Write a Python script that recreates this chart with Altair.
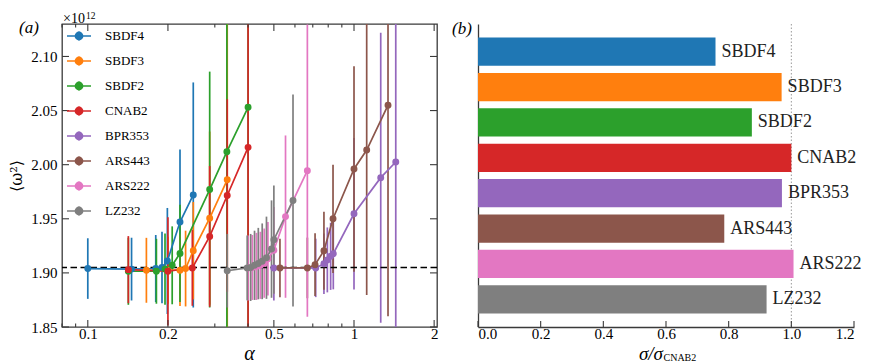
import altair as alt
import pandas as pd

methods = ["SBDF4", "SBDF3", "SBDF2", "CNAB2", "BPR353", "ARS443", "ARS222", "LZ232"]
colors = ["#1f77b4", "#ff7f0e", "#2ca02c", "#d62728", "#9467bd", "#8c564b", "#e377c2", "#7f7f7f"]

# ---- panel (a): alpha, <omega^2> (units 1e12), half error bar ----
sbdf4_alpha = [0.100, 0.146, 0.180, 0.190, 0.199, 0.222, 0.249]
sbdf4_value = [1.904, 1.9035, 1.904, 1.905, 1.911, 1.947, 1.972]
sbdf4_err = [0.028, 0.029, 0.031, 0.033, 0.049, 0.067, 0.104]

sbdf3_alpha = [0.166, 0.200, 0.222, 0.233, 0.249, 0.287, 0.334]
sbdf3_value = [1.9024, 1.9025, 1.9025, 1.904, 1.9205, 1.9506, 1.986]
sbdf3_err = [0.030, 0.031, 0.033, 0.035, 0.045, 0.080, 0.150]

sbdf2_alpha = [0.142, 0.181, 0.195, 0.2075, 0.222, 0.287, 0.333, 0.400]
sbdf2_value = [1.9015, 1.9015, 1.9035, 1.907, 1.918, 1.977, 2.012, 2.053]
sbdf2_err = [0.031, 0.030, 0.033, 0.036, 0.045, 0.109, 0.200, 0.250]

cnab2_alpha = [0.142, 0.200, 0.247, 0.287, 0.334, 0.400]
cnab2_value = [1.903, 1.9015, 1.9046, 1.9337, 1.9715, 2.016]
cnab2_err = [0.031, 0.050, 0.035, 0.065, 0.089, 0.300]

bpr353_alpha = [0.500, 0.718, 0.771, 0.794, 0.817, 0.836, 1.000, 1.260, 1.435]
bpr353_value = [1.9046, 1.9046, 1.9085, 1.912, 1.9153, 1.9178, 1.9546, 1.988, 2.0025]
bpr353_err = [0.030, 0.027, 0.028, 0.030, 0.031, 0.033, 0.070, 0.134, 0.200]

ars443_alpha = [0.527, 0.668, 0.714, 0.771, 0.834, 1.000, 1.116, 1.342]
ars443_value = [1.9046, 1.9046, 1.9076, 1.9205, 1.950, 1.996, 2.0135, 2.055]
ars443_err = [0.027, 0.028, 0.029, 0.036, 0.050, 0.095, 0.134, 0.195]

ars222_alpha = [0.400, 0.415, 0.430, 0.445, 0.460, 0.475, 0.500, 0.553, 0.668]
ars222_value = [1.9045, 1.905, 1.906, 1.907, 1.909, 1.913, 1.921, 1.952, 1.9945]
ars222_err = [0.030, 0.030, 0.031, 0.031, 0.032, 0.034, 0.040, 0.075, 0.135]

lz232_alpha = [0.334, 0.397, 0.409, 0.423, 0.437, 0.452, 0.469, 0.490, 0.500, 0.590]
lz232_value = [1.902, 1.9046, 1.905, 1.907, 1.9086, 1.9107, 1.914, 1.922, 1.9307, 1.9669]
lz232_err = [0.034, 0.030, 0.031, 0.032, 0.033, 0.035, 0.038, 0.045, 0.050, 0.098]

reference_level = 1.905

# ---- panel (b): sigma / sigma_CNAB2 ----
sigma_ratio = [0.758, 0.969, 0.874, 1.000, 0.970, 0.786, 1.007, 0.921]

x_major = [0.1, 0.2, 0.5, 1, 2]
x_minor = [0.08, 0.09, 0.3, 0.4, 0.6, 0.7, 0.8, 0.9]
y_ticks = [1.85, 1.90, 1.95, 2.00, 2.05, 2.10]
bar_ticks = [0.0, 0.2, 0.4, 0.6, 0.8, 1.0, 1.2]

series = [
    (sbdf4_alpha, sbdf4_value, sbdf4_err),
    (sbdf3_alpha, sbdf3_value, sbdf3_err),
    (sbdf2_alpha, sbdf2_value, sbdf2_err),
    (cnab2_alpha, cnab2_value, cnab2_err),
    (bpr353_alpha, bpr353_value, bpr353_err),
    (ars443_alpha, ars443_value, ars443_err),
    (ars222_alpha, ars222_value, ars222_err),
    (lz232_alpha, lz232_value, lz232_err),
]
rows = []
for k, (m, (a, v, e)) in enumerate(zip(methods, series)):
    for ai, vi, ei in zip(a, v, e):
        rows.append(dict(method=m, k=k, alpha=ai, value=vi, lo=vi - ei, hi=vi + ei))
df = pd.DataFrame(rows)

FONT = "Liberation Serif"
FRAME = "#3a3a3a"
W1, H1 = 375, 303
W2, H2 = 376, 303

xscale = alt.Scale(type="log", domain=[0.08, 2.05], nice=False)
yscale = alt.Scale(domain=[1.85, 2.13], nice=False, zero=False)
xaxis = alt.Axis(values=x_major, format="~g", ticks=False, tickSize=0, domain=False,
                 grid=False, labelFont=FONT, labelFontSize=15, labelColor="black",
                 labelPadding=-1, title=None)
yaxis = alt.Axis(values=y_ticks, format=".2f", ticks=False, tickSize=0, domain=False,
                 grid=False, labelFont=FONT, labelFontSize=15, labelColor="black",
                 labelPadding=5, title="⟨ω²⟩", titleFont="DejaVu Serif", titleFontSize=16,
                 titleFontWeight="normal", titleColor="black", titlePadding=6)
cscale = alt.Scale(domain=methods, range=colors)

legend_path = ("M-1,0L1,0M0,-0.4L0,0.4M-0.3,0A0.3,0.3,0,1,0,0.3,0"
               "A0.3,0.3,0,1,0,-0.3,0Z")
leg = alt.Legend(
    title=None, orient="none", legendX=4, legendY=-1, padding=0,
    symbolType=legend_path, symbolSize=576, symbolStrokeWidth=1.6,
    symbolOpacity=1, labelFont=FONT, labelFontSize=13, labelColor="black",
    labelOffset=13, rowPadding=4)
C = alt.Color("method:N", scale=cscale, legend=leg)

base = alt.Chart(df)
X = alt.X("alpha:Q", scale=xscale, axis=xaxis)
Y = alt.Y("value:Q", scale=yscale, axis=yaxis)

err = base.mark_rule(strokeWidth=1.7, clip=True).encode(
    x=X, y=alt.Y("lo:Q", scale=yscale, axis=yaxis), y2="hi:Q", color=C)
lines = base.mark_line(strokeWidth=1.7, clip=True).encode(
    x=X, y=Y, color=C, detail="method:N")
pts = base.mark_point(filled=True, size=48, opacity=1, clip=True).encode(
    x=X, y=Y, color=C, order="k:Q")

dash = alt.Chart(pd.DataFrame({"ref": [reference_level]})).mark_rule(
    color="black", strokeWidth=1.7, strokeDash=[6.5, 3.5]).encode(
    y=alt.Y("ref:Q", scale=yscale, axis=yaxis))

def xticks(vals, length, top):
    d = pd.DataFrame({"alpha": vals})
    if top:
        yy, yy2 = alt.value(0), alt.value(length)
    else:
        yy, yy2 = alt.value(H1), alt.value(H1 - length)
    return alt.Chart(d).mark_rule(color=FRAME, strokeWidth=1.1).encode(x=X, y=yy, y2=yy2)

def yticks(vals, length, right):
    d = pd.DataFrame({"value": vals})
    if right:
        xx, xx2 = alt.value(W1), alt.value(W1 - length)
    else:
        xx, xx2 = alt.value(0), alt.value(length)
    return alt.Chart(d).mark_rule(color=FRAME, strokeWidth=1.1).encode(y=Y, x=xx, x2=xx2)

ticks = [xticks(x_major, 7, False), xticks(x_major, 7, True),
         xticks(x_minor, 3.5, False), xticks(x_minor, 3.5, True),
         yticks(y_ticks, 7, False), yticks(y_ticks, 7, True)]

def label(text, x, y, size, align="center", baseline="middle", style="normal", font=FONT):
    return alt.Chart(pd.DataFrame({"t": [text]})).mark_text(
        font=font, fontSize=size, fontStyle=style, align=align, baseline=baseline,
        color="black").encode(text="t:N", x=alt.value(x), y=alt.value(y))

txt_a = label("(a)", -33, 4, 17, style="italic")
txt_exp1 = label("×10", 1, -1.5, 14, align="left", baseline="alphabetic")
txt_exp2 = label("12", 24, -5, 9.5, align="left", baseline="alphabetic")
txt_alpha = label("α", W1 / 2, H1 + 33, 20, baseline="alphabetic", style="italic")

left = alt.layer(err, dash, lines, pts, *ticks, txt_a, txt_exp1, txt_exp2,
                 txt_alpha).properties(
    width=W1, height=H1,
    view=alt.ViewBackground(stroke=FRAME, strokeWidth=1.3))

# ---- right panel ----
dfb = pd.DataFrame({"method": methods, "ratio": sigma_ratio})
bscale = alt.Scale(domain=[0, 1.2], nice=False)
baxis = alt.Axis(values=bar_ticks, format=".1f", ticks=False, tickSize=0, domain=True,
                 domainColor=FRAME, domainWidth=1.3, grid=False, labelFont=FONT,
                 labelFontSize=15, labelColor="black", labelPadding=-1, title=None)
bx = alt.X("ratio:Q", scale=bscale, axis=baxis)
by = alt.Y("method:N", sort=methods,
           scale=alt.Scale(paddingInner=0.2, paddingOuter=0.384, align=0.5),
           axis=alt.Axis(labels=False, ticks=False, title=None, domain=True,
                         domainColor=FRAME, domainWidth=1.3))
bars = alt.Chart(dfb).mark_bar().encode(
    x=bx, y=by, color=alt.Color("method:N", scale=cscale, legend=None))
blabels = alt.Chart(dfb).mark_text(
    align="left", baseline="middle", dx=6, font=FONT, fontSize=18, color="#222").encode(
    x=bx, y=by, text="method:N")
vline = alt.Chart(pd.DataFrame({"ratio": [1.0]})).mark_rule(
    color="#999999", strokeWidth=1, strokeDash=[1.5, 2]).encode(x=bx)
bticks = alt.Chart(pd.DataFrame({"ratio": bar_ticks})).mark_rule(
    color=FRAME, strokeWidth=1.1).encode(x=bx, y=alt.value(H2), y2=alt.value(H2 - 6))
txt_b = label("(b)", -16, 5, 17, style="italic")
txt_s1 = label("σ/σ", 185, H2 + 33, 19, align="right", baseline="alphabetic", style="italic")
txt_s2 = label("CNAB2", 185.5, H2 + 34, 10, align="left", baseline="alphabetic")

right = alt.layer(vline, bars, blabels, bticks, txt_b, txt_s1, txt_s2).properties(
    width=W2, height=H2)

chart = alt.hconcat(left, right, spacing=41, bounds="flush").resolve_scale(
    color="independent").properties(padding={"left": 0, "top": 2, "right": 0, "bottom": 0}
    ).configure(font=FONT).configure_view(stroke="transparent").configure_axis(
    labelFont=FONT).configure_legend(labelFont=FONT)

chart.save("out.html", embed_options={"renderer": "svg", "actions": False})
